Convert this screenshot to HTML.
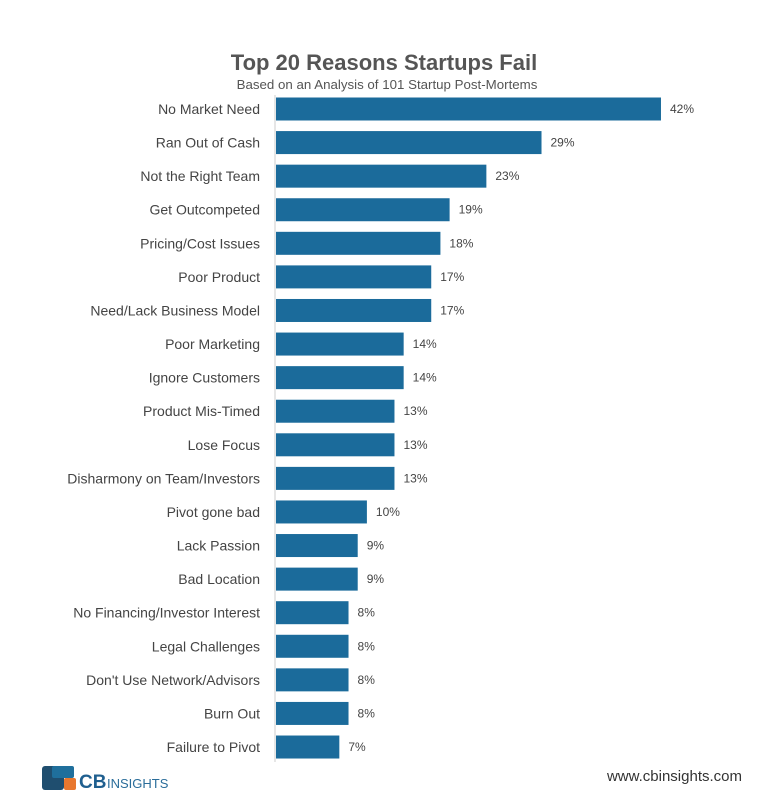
<!DOCTYPE html>
<html><head><meta charset="utf-8"><style>
body{margin:0;background:#fff;}
svg text{font-family:"Liberation Sans",sans-serif;}
</style></head><body>
<svg width="770" height="800" xmlns="http://www.w3.org/2000/svg">
<rect width="770" height="800" fill="#fff"/>
<text x="384" y="70" text-anchor="middle" font-size="22" font-weight="bold" fill="#555">Top 20 Reasons Startups Fail</text>
<text x="387" y="89" text-anchor="middle" font-size="13.3" fill="#555">Based on an Analysis of 101 Startup Post-Mortems</text>
<line x1="275" y1="95" x2="275" y2="762" stroke="#ccc" stroke-width="1"/>
<g id="bars"></g>
<rect x="42" y="766" width="22" height="24" rx="3" fill="#1f4e6f"/>
<rect x="52" y="766" width="22" height="12" rx="2" fill="#1f6f9c"/>
<rect x="64" y="778" width="12" height="12" rx="2" fill="#e8772e"/>
<text x="79" y="788" font-size="19" font-weight="bold" fill="#1f5f8f">CB</text>
<text x="107" y="788" font-size="13" fill="#2a6d9a">INSIGHTS</text>
<text x="742" y="781" text-anchor="end" font-size="15" fill="#333">www.cbinsights.com</text>
</svg>
<script>
const d=[["No Market Need",42],["Ran Out of Cash",29],["Not the Right Team",23],["Get Outcompeted",19],["Pricing/Cost Issues",18],["Poor Product",17],["Need/Lack Business Model",17],["Poor Marketing",14],["Ignore Customers",14],["Product Mis-Timed",13],["Lose Focus",13],["Disharmony on Team/Investors",13],["Pivot gone bad",10],["Lack Passion",9],["Bad Location",9],["No Financing/Investor Interest",8],["Legal Challenges",8],["Don't Use Network/Advisors",8],["Burn Out",8],["Failure to Pivot",7]];
let s="";
d.forEach((r,i)=>{const c=109+i*33.58;const w=r[1]*9.19;
s+=`<rect x="276" y="${c-11.5}" width="${w-1}" height="23" fill="#1b6b9b"/>`;
s+=`<text x="260" y="${c+5}" text-anchor="end" font-size="14" fill="#444">${r[0]}</text>`;
s+=`<text x="${276+w+8}" y="${c+4}" font-size="12" fill="#444">${r[1]}%</text>`;});
document.getElementById("bars").innerHTML=s;
</script>
</body></html>
